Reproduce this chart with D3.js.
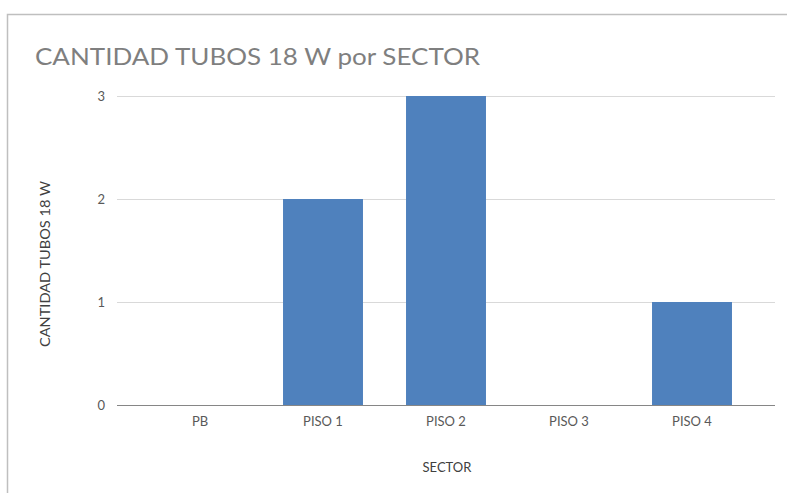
<!DOCTYPE html>
<html><head><meta charset="utf-8">
<script src="https://cdn.jsdelivr.net/npm/d3@7"></script>
<style>html,body{margin:0;padding:0;background:#fff;}svg{display:block;}</style>
</head><body>
<svg id="c" width="787" height="493"></svg>
<script>
const categories = ["PB", "PISO 1", "PISO 2", "PISO 3", "PISO 4"];
const values = [0, 2, 3, 0, 1];
const yTicks = [0, 1, 2, 3];
const title = "CANTIDAD TUBOS 18 W por SECTOR";
const yTitle = "CANTIDAD TUBOS 18 W";
const xTitle = "SECTOR";

const svg = d3.select("#c");
const font = "Lato, 'Open Sans', sans-serif";

// frame
svg.append("rect").attr("x", 7.5).attr("y", 14.5).attr("width", 800).attr("height", 500)
  .attr("fill", "#fff").attr("stroke", "#bfbfbf").attr("stroke-width", 1.5);

const gridL = 117, gridR = 775;
const x = d3.scaleBand().domain(categories).range([138.5, 753.5]).paddingInner(0.35).paddingOuter(0.175);
const y = d3.scaleLinear().domain([0, 3]).range([405, 96]);

// gridlines
svg.append("g").selectAll("line").data(yTicks.filter(d => d > 0)).join("line")
  .attr("x1", gridL).attr("x2", gridR)
  .attr("y1", d => y(d) + 0.5).attr("y2", d => y(d) + 0.5)
  .attr("stroke", "#d9d9d9").attr("stroke-width", 1);

// bars
svg.append("g").selectAll("rect").data(categories).join("rect")
  .attr("x", d => x(d)).attr("width", x.bandwidth())
  .attr("y", (d, i) => y(values[i])).attr("height", (d, i) => y(0) - y(values[i]))
  .attr("fill", "#4f81bd");

// baseline
svg.append("line").attr("x1", gridL).attr("x2", gridR).attr("y1", y(0) + 0.5).attr("y2", y(0) + 0.5)
  .attr("stroke", "#868686").attr("stroke-width", 1.2);

// y axis labels
const yAxis = d3.axisLeft(y).tickValues(yTicks).tickSize(0).tickPadding(0).tickFormat(d3.format("d"));
const ga = svg.append("g").attr("transform", `translate(105,0)`).call(yAxis);
ga.select(".domain").remove();
ga.selectAll("text").attr("font-family", font).attr("font-size", 13).attr("fill", "#595959").attr("dy", "0.35em");

// x axis labels
const xAxis = d3.axisBottom(x).tickSize(0).tickPadding(0);
const gx = svg.append("g").attr("transform", `translate(0,417)`).call(xAxis);
gx.select(".domain").remove();
gx.selectAll("text").attr("font-family", font).attr("font-size", 13).attr("fill", "#595959");

// titles
svg.append("text").attr("x", 35).attr("y", 65).text(title)
  .attr("textLength", 445).attr("lengthAdjust", "spacingAndGlyphs")
  .attr("font-family", font).attr("font-size", 24).attr("fill", "#7f7f7f");
svg.append("text").attr("transform", "translate(50,264) rotate(-90)").attr("text-anchor", "middle")
  .attr("textLength", 166).attr("lengthAdjust", "spacingAndGlyphs")
  .text(yTitle).attr("font-family", font).attr("font-size", 12.5).attr("fill", "#404040");
svg.append("text").attr("x", 447).attr("y", 472).attr("text-anchor", "middle")
  .text(xTitle).attr("font-family", font).attr("font-size", 13).attr("fill", "#404040");
</script>
</body></html>
